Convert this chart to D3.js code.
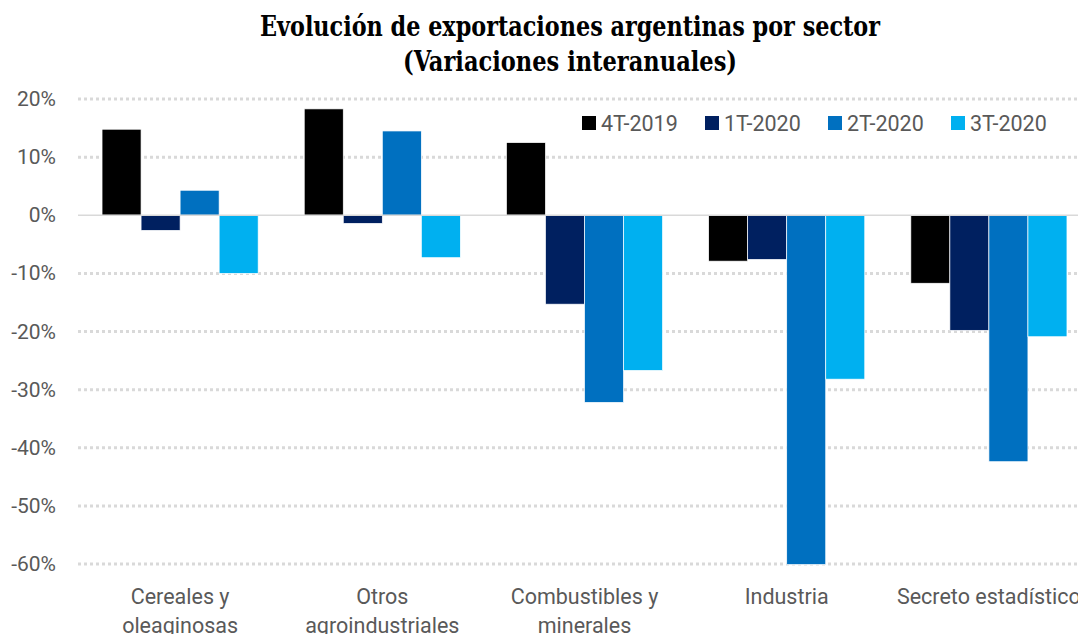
<!DOCTYPE html>
<html>
<head>
<meta charset="utf-8">
<script src="https://cdn.jsdelivr.net/npm/d3@7"></script>
<style>
  body { margin: 0; background: #fff; }
  svg { display: block; overflow: hidden; }
</style>
</head>
<body>
<div id="chart"></div>
<script>
const sectors = [
  ["Cereales y", "oleaginosas"],
  ["Otros", "agroindustriales"],
  ["Combustibles y", "minerales"],
  ["Industria"],
  ["Secreto estadístico"]
];
const seriesNames = ["4T-2019", "1T-2020", "2T-2020", "3T-2020"];
const q4_2019 = [14.8, 18.3, 12.5, -7.9, -11.7];
const q1_2020 = [-2.6, -1.4, -15.3, -7.6, -19.8];
const q2_2020 = [4.3, 14.5, -32.2, -60.1, -42.4];
const q3_2020 = [-10.0, -7.3, -26.7, -28.2, -20.9];
const yTicks = [20, 10, 0, -10, -20, -30, -40, -50, -60];
const colors = ["#000000", "#002060", "#0070C0", "#00B0F0"];

(function chart() {
  const width = 1078, height = 634;
  const margin = { top: 99, right: -12, bottom: 70, left: 79 };

  const svg = d3.select("#chart").append("svg")
    .attr("width", width).attr("height", height);

  const allSeries = [q4_2019, q1_2020, q2_2020, q3_2020];
  const data = sectors.map((s, i) => ({
    key: s.join(" "), lines: s,
    values: seriesNames.map((n, j) => ({ name: n, v: allSeries[j][i] }))
  }));

  const x = d3.scaleBand(data.map(d => d.key), [margin.left, width - margin.right]).padding(0);
  const inner = d3.scaleBand(seriesNames, [0, x.bandwidth()]).paddingOuter(0.59).paddingInner(0);
  const y = d3.scaleLinear([-60, 20], [564, 99]);
  const color = d3.scaleOrdinal(seriesNames, colors);

  // gridlines
  svg.append("g")
    .selectAll("line")
    .data(yTicks.filter(t => t !== 0))
    .join("line")
    .attr("x1", 78).attr("x2", width)
    .attr("y1", d => y(d)).attr("y2", d => y(d))
    .attr("stroke", "#d9d9d9").attr("stroke-width", 3)
    .attr("stroke-dasharray", "3,3");

  // y labels
  svg.append("g")
    .selectAll("text")
    .data(yTicks)
    .join("text")
    .attr("x", 56).attr("y", d => y(d))
    .attr("text-anchor", "end").attr("dominant-baseline", "central")
    .style("font-family", "Roboto, 'Noto Sans', sans-serif")
    .style("font-size", "21px").style("fill", "#595959")
    .text(d => d + "%");

  // bars
  svg.append("g")
    .selectAll("g")
    .data(data)
    .join("g")
    .attr("transform", d => `translate(${x(d.key)},0)`)
    .selectAll("rect")
    .data(d => d.values)
    .join("rect")
    .attr("x", d => inner(d.name))
    .attr("width", inner.bandwidth())
    .attr("y", d => y(Math.max(0, d.v)))
    .attr("height", d => Math.abs(y(d.v) - y(0)))
    .attr("fill", d => color(d.name))
    .attr("stroke", "#ffffff").attr("stroke-width", 0.7);

  // zero line
  svg.append("line")
    .attr("x1", 78).attr("x2", width)
    .attr("y1", y(0)).attr("y2", y(0))
    .attr("stroke", "#d9d9d9").attr("stroke-width", 1.5);

  // category labels
  const cat = svg.append("g")
    .selectAll("text")
    .data(data)
    .join("text")
    .attr("x", d => x(d.key) + x.bandwidth() / 2)
    .attr("y", 604)
    .attr("text-anchor", "middle")
    .style("font-family", "Roboto, 'Noto Sans', sans-serif")
    .style("font-size", "21.5px").style("fill", "#595959");
  cat.selectAll("tspan")
    .data(d => d.lines)
    .join("tspan")
    .attr("x", function() { return this.parentNode.getAttribute("x"); })
    .attr("dy", (d, i) => i === 0 ? 0 : 29)
    .text(d => d);

  // title
  const title = svg.append("g")
    .style("font-family", "'DejaVu Serif Condensed', 'DejaVu Serif', serif")
    .style("font-weight", "bold").style("fill", "#000");
  title.append("text").attr("x", 570).attr("y", 36).attr("text-anchor", "middle")
    .style("font-size", "27px")
    .attr("textLength", 620).attr("lengthAdjust", "spacingAndGlyphs")
    .text("Evolución de exportaciones argentinas por sector");
  title.append("text").attr("x", 570).attr("y", 71).attr("text-anchor", "middle")
    .style("font-size", "27px")
    .attr("textLength", 334).attr("lengthAdjust", "spacingAndGlyphs")
    .text("(Variaciones interanuales)");

  // legend
  const legX = [582, 705, 828, 951];
  const leg = svg.append("g")
    .selectAll("g")
    .data(seriesNames)
    .join("g")
    .attr("transform", (d, i) => `translate(${legX[i]},123)`);
  leg.append("rect").attr("x", 0).attr("y", -7).attr("width", 14).attr("height", 14)
    .attr("fill", d => color(d));
  leg.append("text").attr("x", 19).attr("y", 0).attr("dominant-baseline", "central")
    .style("font-family", "Roboto, 'Noto Sans', sans-serif")
    .style("font-size", "21.5px").style("fill", "#595959")
    .text(d => d);
})();
</script>
</body>
</html>
